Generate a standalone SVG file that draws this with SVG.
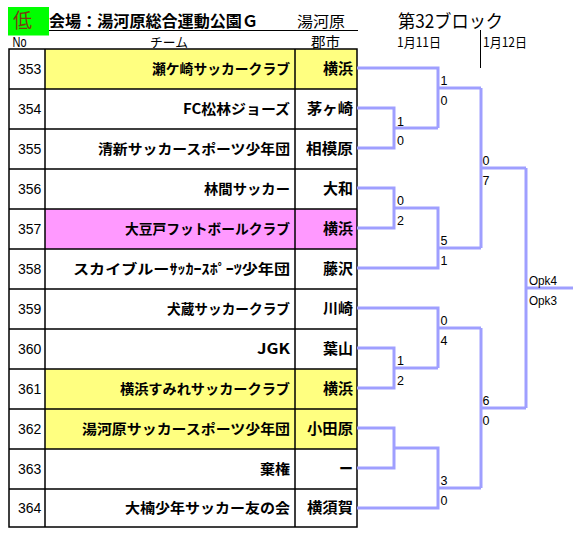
<svg xmlns="http://www.w3.org/2000/svg" width="582" height="541" viewBox="0 0 582 541">
<style>
.jp{font-family:"Noto Sans CJK JP","Noto Sans",sans-serif;fill:#000}
.team{font-family:"Noto Sans CJK JP",sans-serif;font-size:14px;font-weight:bold;text-anchor:end;fill:#000}
.city{font-family:"Noto Sans CJK JP",sans-serif;font-size:14.5px;font-weight:bold;text-anchor:end;fill:#000}
.no{font-family:"Liberation Sans",Arial,sans-serif;font-size:14px;fill:#000}
.sc{font-family:"Liberation Sans",Arial,sans-serif;font-size:12.5px;fill:#000}
.cell{fill:none;stroke:#000;stroke-width:1.5}
.yel{fill:#ffff80}
.pnk{fill:#ff99ff}
.br{fill:none;stroke:#9f9fff;stroke-width:3;stroke-linejoin:miter;stroke-linecap:butt}
</style>
<rect width="582" height="541" fill="#fff"/>
<g id="header">
<rect x="8" y="7" width="41" height="28.5" fill="#00ff00"/>
<text x="13" y="28" class="jp" font-size="20" fill="#7a3a10" style="fill:#7a3a10" textLength="19" lengthAdjust="spacingAndGlyphs">低</text>
<text x="49" y="27" class="jp" font-size="16" font-weight="bold" textLength="209" lengthAdjust="spacingAndGlyphs">会場：湯河原総合運動公園Ｇ</text>
<text x="297" y="26.5" class="jp" font-size="15" textLength="48" lengthAdjust="spacingAndGlyphs">湯河原</text>
<line x1="49" y1="30.5" x2="358" y2="30.5" stroke="#000" stroke-width="1"/>
<text x="12.5" y="47" class="no" textLength="14" lengthAdjust="spacingAndGlyphs">No</text>
<text x="150" y="46.5" class="jp" font-size="13" textLength="38" lengthAdjust="spacingAndGlyphs">チーム</text>
<text x="311" y="47" class="jp" font-size="14" textLength="29" lengthAdjust="spacingAndGlyphs">郡市</text>
<text x="398" y="27.5" class="jp" font-size="18" textLength="105" lengthAdjust="spacingAndGlyphs">第32ブロック</text>
<text x="397" y="47" class="jp" font-size="13" textLength="44" lengthAdjust="spacingAndGlyphs">1月11日</text>
<text x="483" y="47" class="jp" font-size="13" textLength="44" lengthAdjust="spacingAndGlyphs">1月12日</text>
<line x1="480.5" y1="30" x2="480.5" y2="68" stroke="#000" stroke-width="1"/>
</g>
<g id="row-353">
<rect x="45" y="49" width="312" height="40" class="yel"/>
<text x="18" y="74" class="no">353</text>
<text x="290" y="73.5" class="team" textLength="138" lengthAdjust="spacingAndGlyphs">瀬ケ崎サッカークラブ</text>
<text x="353" y="73.5" class="city" textLength="30" lengthAdjust="spacingAndGlyphs">横浜</text>
</g>
<g id="row-354">
<text x="18" y="114" class="no">354</text>
<text x="290" y="113.5" class="team" textLength="107" lengthAdjust="spacingAndGlyphs">FC松林ジョーズ</text>
<text x="353" y="113.5" class="city" textLength="46" lengthAdjust="spacingAndGlyphs">茅ヶ崎</text>
</g>
<g id="row-355">
<text x="18" y="154" class="no">355</text>
<text x="290" y="153.5" class="team" textLength="192" lengthAdjust="spacingAndGlyphs">清新サッカースポーツ少年団</text>
<text x="353" y="153.5" class="city" textLength="47" lengthAdjust="spacingAndGlyphs">相模原</text>
</g>
<g id="row-356">
<text x="18" y="194" class="no">356</text>
<text x="290" y="193.5" class="team" textLength="86" lengthAdjust="spacingAndGlyphs">林間サッカー</text>
<text x="353" y="193.5" class="city" textLength="30" lengthAdjust="spacingAndGlyphs">大和</text>
</g>
<g id="row-357">
<rect x="45" y="209" width="312" height="40" class="pnk"/>
<text x="18" y="234" class="no">357</text>
<text x="290" y="233.5" class="team" textLength="165" lengthAdjust="spacingAndGlyphs">大豆戸フットボールクラブ</text>
<text x="353" y="233.5" class="city" textLength="30" lengthAdjust="spacingAndGlyphs">横浜</text>
</g>
<g id="row-358">
<text x="18" y="274" class="no">358</text>
<text x="290" y="273.5" class="team" textLength="217" lengthAdjust="spacingAndGlyphs">スカイブルーｻｯｶｰｽﾎﾟｰﾂ少年団</text>
<text x="353" y="273.5" class="city" textLength="30" lengthAdjust="spacingAndGlyphs">藤沢</text>
</g>
<g id="row-359">
<text x="18" y="314" class="no">359</text>
<text x="290" y="313.5" class="team" textLength="123" lengthAdjust="spacingAndGlyphs">犬蔵サッカークラブ</text>
<text x="353" y="313.5" class="city" textLength="30" lengthAdjust="spacingAndGlyphs">川崎</text>
</g>
<g id="row-360">
<text x="18" y="354" class="no">360</text>
<text x="290" y="353.5" class="team" textLength="33" lengthAdjust="spacingAndGlyphs">JGK</text>
<text x="353" y="353.5" class="city" textLength="30" lengthAdjust="spacingAndGlyphs">葉山</text>
</g>
<g id="row-361">
<rect x="45" y="369" width="312" height="40" class="yel"/>
<text x="18" y="394" class="no">361</text>
<text x="290" y="393.5" class="team" textLength="170" lengthAdjust="spacingAndGlyphs">横浜すみれサッカークラブ</text>
<text x="353" y="393.5" class="city" textLength="30" lengthAdjust="spacingAndGlyphs">横浜</text>
</g>
<g id="row-362">
<rect x="45" y="409" width="312" height="40" class="yel"/>
<text x="18" y="434" class="no">362</text>
<text x="290" y="433.5" class="team" textLength="208" lengthAdjust="spacingAndGlyphs">湯河原サッカースポーツ少年団</text>
<text x="353" y="433.5" class="city" textLength="46" lengthAdjust="spacingAndGlyphs">小田原</text>
</g>
<g id="row-363">
<text x="18" y="474" class="no">363</text>
<text x="290" y="473.5" class="team" textLength="30" lengthAdjust="spacingAndGlyphs">棄権</text>
<text x="353" y="473.5" class="city" textLength="14" lengthAdjust="spacingAndGlyphs">ー</text>
</g>
<g id="row-364">
<text x="18" y="513" class="no">364</text>
<text x="290" y="512.5" class="team" textLength="165" lengthAdjust="spacingAndGlyphs">大楠少年サッカー友の会</text>
<text x="353" y="512.5" class="city" textLength="46" lengthAdjust="spacingAndGlyphs">横須賀</text>
</g>
<g id="table-grid">
<rect x="9" y="49" width="348" height="478" class="cell"/>
<path class="cell" d="M45 49V527M295 49V527M9 89H357M9 129H357M9 169H357M9 209H357M9 249H357M9 289H357M9 329H357M9 369H357M9 409H357M9 449H357M9 489H357"/>
</g>
<g id="connectors">
<path class="br" d="M357 108H394V148H357M394 128H438"/>
<path class="br" d="M357 68H438V128M438 88H481"/>
<path class="br" d="M357 188H394V228H357M394 208H438V268H357M438 248H481"/>
<path class="br" d="M481 88V248M481 168H526"/>
<path class="br" d="M357 348H394V388H357M394 368H438"/>
<path class="br" d="M357 308H438V368M438 328H481"/>
<path class="br" d="M357 428H394V468H357M394 448H438V508H357M438 488H481"/>
<path class="br" d="M481 328V488M481 408H526"/>
<path class="br" d="M526 168V408M526 288H573"/>
</g>
<g id="scores">
<text x="397" y="125.5" class="sc">1</text>
<text x="397" y="144.5" class="sc">0</text>
<text x="440.5" y="85" class="sc">1</text>
<text x="440.5" y="105" class="sc">0</text>
<text x="397" y="205" class="sc">0</text>
<text x="397" y="225" class="sc">2</text>
<text x="440.5" y="245" class="sc">5</text>
<text x="440.5" y="265" class="sc">1</text>
<text x="482.5" y="165" class="sc">0</text>
<text x="482.5" y="185" class="sc">7</text>
<text x="440.5" y="325" class="sc">0</text>
<text x="440.5" y="345" class="sc">4</text>
<text x="397" y="365" class="sc">1</text>
<text x="397" y="385" class="sc">2</text>
<text x="440.5" y="485" class="sc">3</text>
<text x="440.5" y="505" class="sc">0</text>
<text x="482.5" y="405" class="sc">6</text>
<text x="482.5" y="425" class="sc">0</text>
<text x="529" y="285" class="sc" textLength="28" lengthAdjust="spacingAndGlyphs">Opk4</text>
<text x="529" y="305" class="sc" textLength="28" lengthAdjust="spacingAndGlyphs">Opk3</text>
</g>
</svg>
